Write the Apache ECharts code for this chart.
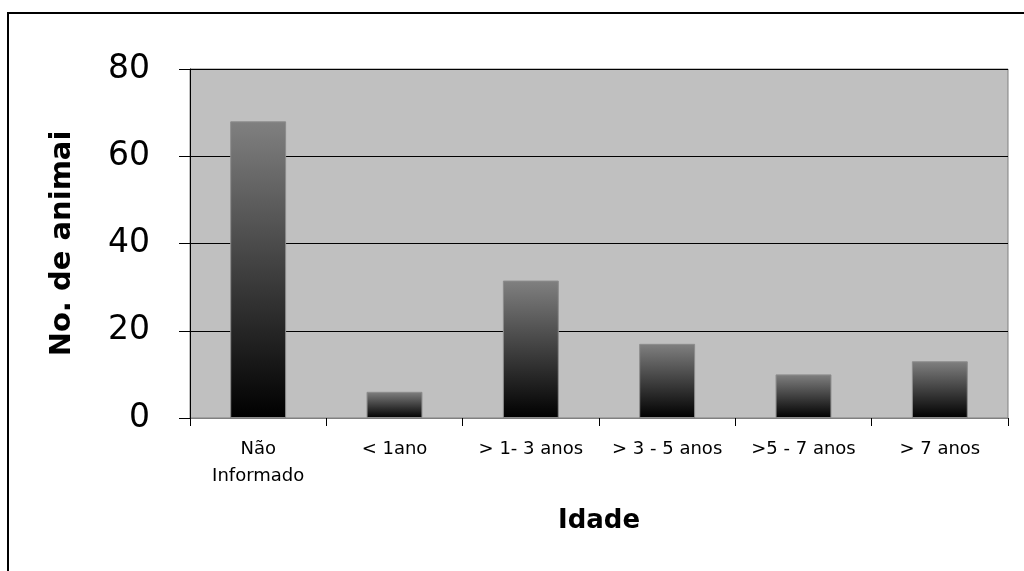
<!DOCTYPE html>
<html>
<head>
<meta charset="utf-8">
<script src="https://cdn.jsdelivr.net/npm/echarts@6/dist/echarts.min.js"></script>
<style>
  html, body { margin: 0; padding: 0; background: #fff; }
  #main { width: 1024px; height: 571px; }
</style>
</head>
<body>
<div id="main"></div>
<script>
var categories = ['Não\nInformado', '< 1ano', '> 1- 3 anos', '> 3 - 5 anos', '>5 - 7 anos', '> 7 anos'];
var values = [68, 6, 31.5, 17, 10, 13];
var yTicks = [0, 20, 40, 60, 80];

var myChart = echarts.init(document.getElementById('main'));

var option = {
    animation: false,
    backgroundColor: '#ffffff',
    graphic: [{
        type: 'rect',
        shape: { x: 8, y: 13, width: 1100, height: 700 },
        style: { fill: 'none', stroke: '#000', lineWidth: 2 },
        silent: true,
        z: -1
    }],
    grid: {
        left: 190, right: 16, top: 69, bottom: 153,
        show: true,
        backgroundColor: '#c0c0c0',
        borderColor: '#808080',
        borderWidth: 1
    },
    xAxis: {
        type: 'category',
        data: categories,
        name: 'Idade',
        nameLocation: 'middle',
        nameGap: 90,
        nameTextStyle: { fontFamily: 'DejaVu Sans', fontSize: 26, fontWeight: 'bold', color: '#000' },
        axisLine: { lineStyle: { color: '#808080', width: 1 } },
        axisTick: { show: true, length: 8, lineStyle: { color: '#000' } },
        axisLabel: {
            interval: 0,
            margin: 18,
            fontFamily: 'DejaVu Sans',
            fontSize: 18,
            lineHeight: 27,
            color: '#000'
        }
    },
    yAxis: {
        type: 'value',
        min: yTicks[0],
        max: yTicks[yTicks.length - 1],
        interval: 20,
        name: 'No. de animai',
        nameLocation: 'middle',
        nameGap: 113,
        nameTextStyle: { fontFamily: 'DejaVu Sans', fontSize: 29, fontWeight: 'bold', color: '#000' },
        axisLine: { show: true, lineStyle: { color: '#000', width: 1 } },
        axisTick: { show: true, length: 11, lineStyle: { color: '#000' } },
        axisLabel: { margin: 40, fontFamily: 'DejaVu Sans', fontSize: 33, color: '#000' },
        splitLine: { show: true, lineStyle: { color: '#000', width: 1 } }
    },
    series: [{
        type: 'bar',
        data: values,
        barWidth: '41%',
        itemStyle: {
            color: new echarts.graphic.LinearGradient(0, 0, 0, 1, [
                { offset: 0, color: '#808080' },
                { offset: 1, color: '#000000' }
            ]),
            borderColor: '#8c8c8c',
            borderWidth: 1
        }
    }]
};

myChart.setOption(option);
</script>
</body>
</html>
